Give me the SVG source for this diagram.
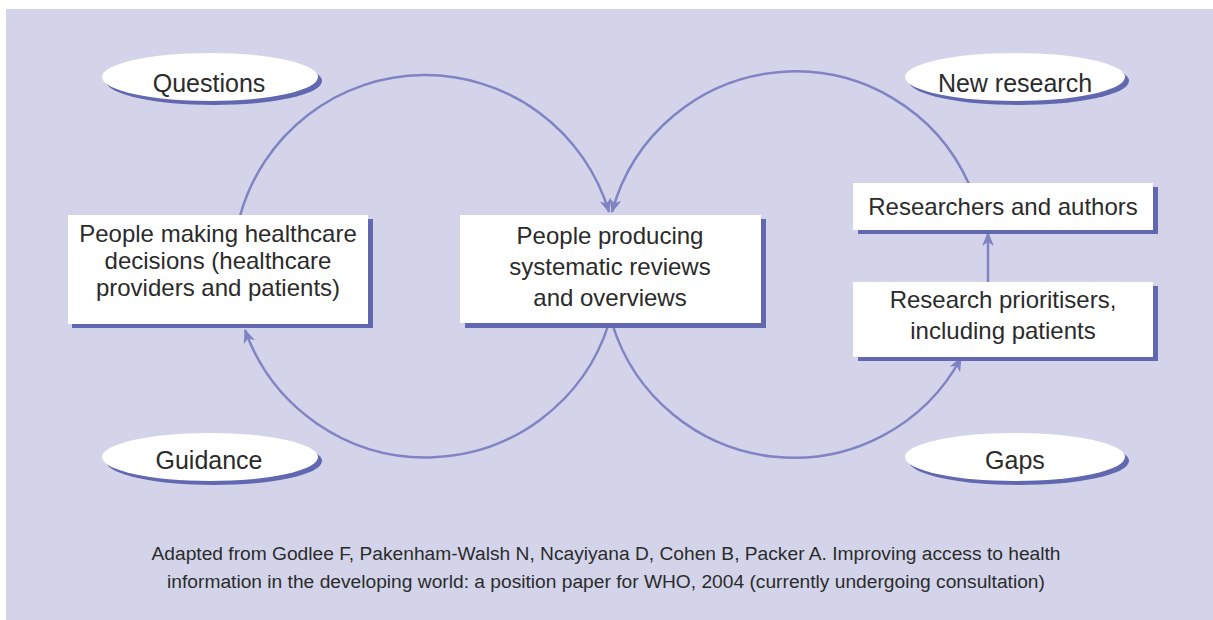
<svg xmlns="http://www.w3.org/2000/svg" width="1213" height="620" viewBox="0 0 1213 620">
  <style>
    .lbl { font-family: "Liberation Sans", Arial, sans-serif; font-size: 24px; fill: #2b2b2b; text-anchor: middle; }
    .oval { font-family: "Liberation Sans", Arial, sans-serif; font-size: 25px; fill: #2b2b2b; text-anchor: middle; }
    .foot { font-family: "Liberation Sans", Arial, sans-serif; font-size: 19.2px; fill: #2b2b2b; text-anchor: middle; }
    .box { fill: #ffffff; }
    .shadow { fill: #6168b0; }
    .conn { fill: none; stroke: #8084c2; stroke-width: 2.5; }
  </style>
  <defs>
    <marker id="arr" viewBox="0 0 14 12" refX="13" refY="6" markerWidth="14" markerHeight="12" orient="auto" markerUnits="userSpaceOnUse">
      <path d="M0,0 L14,6 L0,12 L4,6 z" fill="#7f83c1"/>
    </marker>
  </defs>

  <rect x="0" y="0" width="1213" height="620" fill="#ffffff"/>
  <rect x="6" y="9" width="1207" height="611" fill="#d3d4ea"/>

  <g id="connectors">
    <path class="conn" d="M 240 216 A 192 192 0 0 1 609 212" marker-end="url(#arr)"/>
    <path class="conn" d="M 609 323 A 192 192 0 0 1 245 330" marker-end="url(#arr)"/>
    <path class="conn" d="M 969 184 A 190 190 0 0 0 612 212" marker-end="url(#arr)"/>
    <path class="conn" d="M 612 323 A 190 190 0 0 0 961 358" marker-end="url(#arr)"/>
    <path class="conn" d="M 988 282 L 988 233" marker-end="url(#arr)"/>
  </g>

  <g id="questions">
    <ellipse class="shadow" cx="214" cy="81" rx="108" ry="24"/>
    <ellipse class="box" cx="210" cy="77" rx="108" ry="24"/>
    <text class="oval" x="209" y="92">Questions</text>
  </g>
  <g id="new-research">
    <ellipse class="shadow" cx="1019" cy="81" rx="110" ry="24"/>
    <ellipse class="box" cx="1015" cy="77" rx="110" ry="24"/>
    <text class="oval" x="1015" y="92">New research</text>
  </g>
  <g id="guidance">
    <ellipse class="shadow" cx="214" cy="461" rx="108" ry="24"/>
    <ellipse class="box" cx="210" cy="457" rx="108" ry="24"/>
    <text class="oval" x="209" y="469">Guidance</text>
  </g>
  <g id="gaps">
    <ellipse class="shadow" cx="1019" cy="461" rx="110" ry="24"/>
    <ellipse class="box" cx="1015" cy="457" rx="110" ry="24"/>
    <text class="oval" x="1015" y="469">Gaps</text>
  </g>

  <g id="decision-makers">
    <rect class="shadow" x="72" y="219" width="301" height="109"/>
    <rect class="box" x="68" y="215" width="300" height="109"/>
    <text class="lbl" x="218" y="242">People making healthcare</text>
    <text class="lbl" x="218" y="269">decisions (healthcare</text>
    <text class="lbl" x="218" y="296">providers and patients)</text>
  </g>
  <g id="reviewers">
    <rect class="shadow" x="465" y="219" width="301" height="109"/>
    <rect class="box" x="460" y="215" width="301" height="108"/>
    <text class="lbl" x="610" y="244">People producing</text>
    <text class="lbl" x="610" y="275">systematic reviews</text>
    <text class="lbl" x="610" y="306">and overviews</text>
  </g>
  <g id="researchers">
    <rect class="shadow" x="858" y="187" width="300" height="47"/>
    <rect class="box" x="853" y="183" width="300" height="47"/>
    <text class="lbl" x="1003" y="215">Researchers and authors</text>
  </g>
  <g id="prioritisers">
    <rect class="shadow" x="858" y="286" width="300" height="75"/>
    <rect class="box" x="853" y="282" width="300" height="75"/>
    <text class="lbl" x="1003" y="308">Research prioritisers,</text>
    <text class="lbl" x="1003" y="339">including patients</text>
  </g>

  <g id="footnote">
    <text class="foot" x="606" y="560">Adapted from Godlee F, Pakenham-Walsh N, Ncayiyana D, Cohen B, Packer A. Improving access to health</text>
    <text class="foot" x="606" y="588">information in the developing world: a position paper for WHO, 2004 (currently undergoing consultation)</text>
  </g>
</svg>
